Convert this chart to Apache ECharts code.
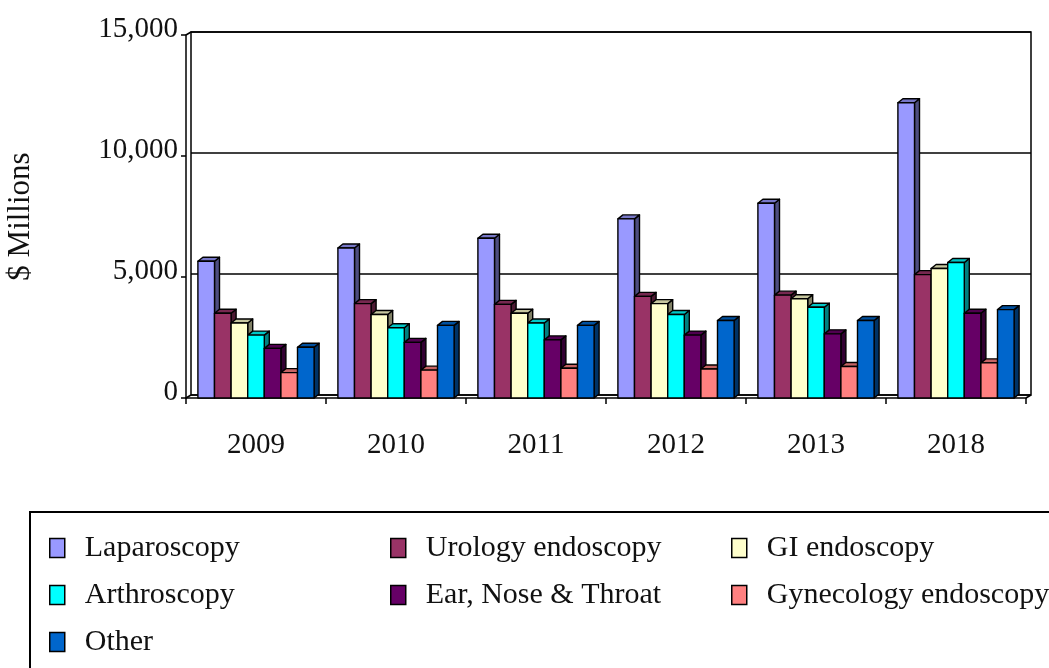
<!DOCTYPE html>
<html>
<head>
<meta charset="utf-8">
<script src="https://cdn.jsdelivr.net/npm/echarts@6/dist/echarts.min.js"></script>
<style>
  html, body { margin: 0; padding: 0; background: #ffffff; }
  #chart { width: 1049px; height: 668px; }
</style>
</head>
<body>
<div id="chart"></div>
<script>
// Endoscopy market by segment, $ millions
const categories = ['2009', '2010', '2011', '2012', '2013', '2018'];

const laparoscopy = [5650, 6200, 6600, 7400, 8050, 12200];
const urologyEndoscopy = [3500, 3900, 3870, 4200, 4250, 5100];
const giEndoscopy = [3100, 3450, 3500, 3900, 4100, 5350];
const arthroscopy = [2600, 2900, 3100, 3450, 3750, 5600];
const earNoseThroat = [2050, 2300, 2400, 2600, 2650, 3500];
const gynecologyEndoscopy = [1050, 1150, 1230, 1200, 1300, 1450];
const otherEndoscopy = [2100, 3000, 3000, 3200, 3200, 3650];

const yTicks = [0, 5000, 10000, 15000];

const seriesNames = ['Laparoscopy', 'Urology endoscopy', 'GI endoscopy', 'Arthroscopy',
  'Ear, Nose & Throat', 'Gynecology endoscopy', 'Other'];
const seriesValues = [laparoscopy, urologyEndoscopy, giEndoscopy, arthroscopy,
  earNoseThroat, gynecologyEndoscopy, otherEndoscopy];
const seriesColors = ['#9999FF', '#993366', '#FFFFCC', '#00FFFF', '#660066', '#FF8080', '#0066CC'];

// Layout of the 3D box: front plane and the back wall offset
const FONT = 'Liberation Serif';
const W = 1049, H = 668;
const front = { left: 186, top: 35, right: 1026, bottom: 398 };
const wall = { dx: 5, dy: -3 };
const barDepth = { dx: 5, dy: -4 };
const groupRatio = 0.83;
const N = seriesNames.length;

function shade(hex, k) {
  const n = parseInt(hex.slice(1), 16);
  const r = Math.round(((n >> 16) & 255) * k);
  const g = Math.round(((n >> 8) & 255) * k);
  const b = Math.round((n & 255) * k);
  return 'rgb(' + r + ',' + g + ',' + b + ')';
}

// Each bar: front face, top cap and darker right side
function makeRenderer(idx, color) {
  return function (params, api) {
    const c = api.value(0);
    const v = api.value(1);
    const base = api.coord([c, 0]);
    const top = api.coord([c, v]);
    const catW = api.size([1, 0])[0];
    const bw = catW * groupRatio / N;
    const x0 = base[0] - catW * groupRatio / 2 + idx * bw;
    const x1 = x0 + bw;
    const yb = base[1];
    const yt = top[1];
    const dx = barDepth.dx, dy = barDepth.dy;
    const edge = { stroke: '#000', lineWidth: 1.4, lineJoin: 'round' };
    return {
      type: 'group',
      children: [
        { type: 'polygon', shape: { points: [[x1, yt], [x1 + dx, yt + dy], [x1 + dx, yb + dy], [x1, yb]] },
          style: Object.assign({ fill: shade(color, 0.5) }, edge) },
        { type: 'polygon', shape: { points: [[x0, yt], [x0 + dx, yt + dy], [x1 + dx, yt + dy], [x1, yt]] },
          style: Object.assign({ fill: shade(color, 0.78) }, edge) },
        { type: 'rect', shape: { x: x0, y: yt, width: bw, height: yb - yt },
          style: Object.assign({ fill: color }, edge) }
      ]
    };
  };
}

const series = seriesNames.map(function (name, i) {
  return {
    type: 'custom',
    name: name,
    xAxisIndex: 0,
    yAxisIndex: 0,
    renderItem: makeRenderer(i, seriesColors[i]),
    itemStyle: { color: seriesColors[i], borderColor: '#000', borderWidth: 1.5 },
    encode: { x: 0, y: 1 },
    data: seriesValues[i].map(function (v, j) { return [j, v]; }),
    z: 5
  };
});

// Legend: three columns, row-major order
const legendCols = [44, 385, 726];
const legendRows = [546, 593, 640];
const legends = seriesNames.map(function (name, i) {
  return {
    data: [name],
    left: legendCols[i % 3],
    top: legendRows[Math.floor(i / 3)] - 18,
    icon: 'rect',
    itemWidth: 15,
    itemHeight: 19,
    selectedMode: false,
    itemStyle: { borderColor: '#000', borderWidth: 1.5 },
    textStyle: { fontFamily: FONT, fontSize: 30, color: '#111', padding: [0, 0, 0, 15] }
  };
});

const lineStyle = { stroke: '#000', lineWidth: 1.5 };

const option = {
  backgroundColor: '#ffffff',
  animation: false,
  grid: [
    { left: front.left, right: W - front.right, top: front.top, bottom: H - front.bottom,
      outerBoundsMode: 'none' },
    { left: front.left + wall.dx, right: W - front.right - wall.dx, top: front.top + wall.dy,
      bottom: H - front.bottom - wall.dy, show: true, borderColor: '#000', borderWidth: 1.5,
      backgroundColor: 'transparent', outerBoundsMode: 'none' }
  ],
  xAxis: [
    {
      type: 'category', gridIndex: 0, data: categories,
      axisLine: { lineStyle: { color: '#000', width: 1.5 } },
      axisTick: { show: true, length: 6, lineStyle: { color: '#000', width: 1.5 } },
      axisLabel: { fontFamily: FONT, fontSize: 29, color: '#111', margin: 33 },
      splitLine: { show: false }
    },
    {
      type: 'category', gridIndex: 1, data: categories,
      axisLine: { show: false }, axisTick: { show: false }, axisLabel: { show: false },
      splitLine: { show: false }
    }
  ],
  yAxis: [
    {
      type: 'value', gridIndex: 0, min: yTicks[0], max: yTicks[yTicks.length - 1], interval: yTicks[1] - yTicks[0],
      name: '$ Millions', nameLocation: 'middle', nameGap: 150,
      nameTextStyle: { fontFamily: FONT, fontSize: 31, color: '#111' },
      axisLine: { show: true, lineStyle: { color: '#000', width: 1.5 } },
      axisTick: { show: true, length: 5, lineStyle: { color: '#000', width: 1.5 } },
      axisLabel: {
        margin: 8,
        formatter: function (v) { return '{v|' + v.toLocaleString('en-US') + '}'; },
        rich: { v: { fontFamily: FONT, fontSize: 29, color: '#111', padding: [0, 0, 12, 0] } }
      },
      splitLine: { show: false }
    },
    {
      type: 'value', gridIndex: 1, min: yTicks[0], max: yTicks[yTicks.length - 1], interval: yTicks[1] - yTicks[0],
      axisLine: { show: false }, axisTick: { show: false }, axisLabel: { show: false },
      splitLine: { show: true, lineStyle: { color: '#000', width: 1.5 } }
    }
  ],
  legend: legends,
  graphic: [
    { type: 'line', z: 1, shape: { x1: front.left, y1: front.top, x2: front.left + wall.dx, y2: front.top + wall.dy }, style: lineStyle },
    { type: 'line', z: 1, shape: { x1: front.left, y1: front.bottom, x2: front.left + wall.dx, y2: front.bottom + wall.dy }, style: lineStyle },
    { type: 'line', z: 1, shape: { x1: front.right, y1: front.bottom, x2: front.right + wall.dx, y2: front.bottom + wall.dy }, style: lineStyle },
    { type: 'rect', z: 1, shape: { x: 30, y: 512, width: 1040, height: 200 }, style: { fill: 'none', stroke: '#000', lineWidth: 2 } }
  ],
  series: series
};

const chart = echarts.init(document.getElementById('chart'), null, { renderer: 'canvas' });
chart.setOption(option);
</script>
</body>
</html>
